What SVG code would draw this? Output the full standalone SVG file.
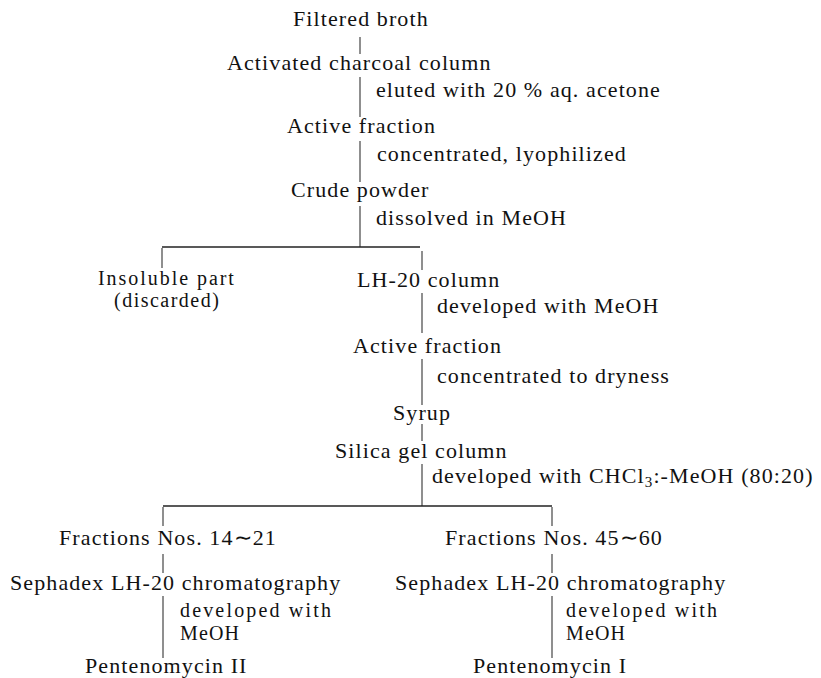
<svg xmlns="http://www.w3.org/2000/svg" width="821" height="678" viewBox="0 0 821 678">
<style>
text{font-family:"Liberation Serif","Times New Roman",serif;font-size:22px;letter-spacing:1.1px;fill:#111}
.t{font-size:20px}
.ln{stroke:#333;stroke-width:1.1;fill:none}
.hz{stroke:#222;stroke-width:1.5;fill:none}
</style>
<rect width="821" height="678" fill="#fff"/>
<g id="connectors">
<line class="ln" x1="360" y1="37" x2="360" y2="54"/>
<line class="ln" x1="360" y1="77" x2="360" y2="117"/>
<line class="ln" x1="360" y1="141" x2="360" y2="182"/>
<line class="ln" x1="360" y1="206" x2="360" y2="247"/>
<line class="hz" x1="162" y1="247" x2="420" y2="247"/>
<line class="ln" x1="162" y1="248" x2="162" y2="268"/>
<line class="ln" x1="422" y1="251" x2="422" y2="270"/>
<line class="ln" x1="422" y1="293" x2="422" y2="333"/>
<line class="ln" x1="422" y1="359" x2="422" y2="405"/>
<line class="ln" x1="422" y1="424" x2="422" y2="441"/>
<line class="ln" x1="422" y1="464" x2="422" y2="506"/>
<line class="hz" x1="163" y1="506" x2="552" y2="506"/>
<line class="ln" x1="163" y1="507" x2="163" y2="526"/>
<line class="ln" x1="163" y1="554" x2="163" y2="573"/>
<line class="ln" x1="163" y1="596" x2="163" y2="658"/>
<line class="ln" x1="552" y1="507" x2="552" y2="526"/>
<line class="ln" x1="552" y1="554" x2="552" y2="573"/>
<line class="ln" x1="552" y1="596" x2="552" y2="658"/>
</g>
<g id="edge-labels">
<text x="376" y="97">eluted with 20 % aq. acetone</text>
<text x="377" y="161">concentrated, lyophilized</text>
<text x="376" y="225">dissolved in MeOH</text>
<text x="437" y="313">developed with MeOH</text>
<text x="437" y="383">concentrated to dryness</text>
<text x="432" y="483">developed with CHCl<tspan font-size="15" dy="4">3</tspan><tspan dy="-4">:-MeOH (80:20)</tspan></text>
<text class="t" x="180" y="617" textLength="152">developed with</text>
<text class="t" x="180" y="640" textLength="60">MeOH</text>
<text class="t" x="566" y="617" textLength="152">developed with</text>
<text class="t" x="566" y="640" textLength="60">MeOH</text>
</g>
<g id="n1"><text x="293" y="26">Filtered broth</text></g>
<g id="n2"><text x="227" y="70">Activated charcoal column</text></g>
<g id="n3"><text x="287" y="133">Active fraction</text></g>
<g id="n4"><text x="291" y="197">Crude powder</text></g>
<g id="n5"><text class="t" x="98" y="285" textLength="137">Insoluble part</text><text class="t" x="114" y="307" textLength="106">(discarded)</text></g>
<g id="n6"><text x="357" y="287">LH-20 column</text></g>
<g id="n7"><text x="353" y="353">Active fraction</text></g>
<g id="n8"><text x="393" y="420">Syrup</text></g>
<g id="n9"><text x="335" y="458">Silica gel column</text></g>
<g id="n10"><text x="59" y="545">Fractions Nos. 14∼21</text></g>
<g id="n11"><text x="10" y="590">Sephadex LH-20 chromatography</text></g>
<g id="n12"><text x="85" y="673">Pentenomycin II</text></g>
<g id="n13"><text x="445" y="545">Fractions Nos. 45∼60</text></g>
<g id="n14"><text x="395" y="590">Sephadex LH-20 chromatography</text></g>
<g id="n15"><text x="473" y="673">Pentenomycin I</text></g>
</svg>
